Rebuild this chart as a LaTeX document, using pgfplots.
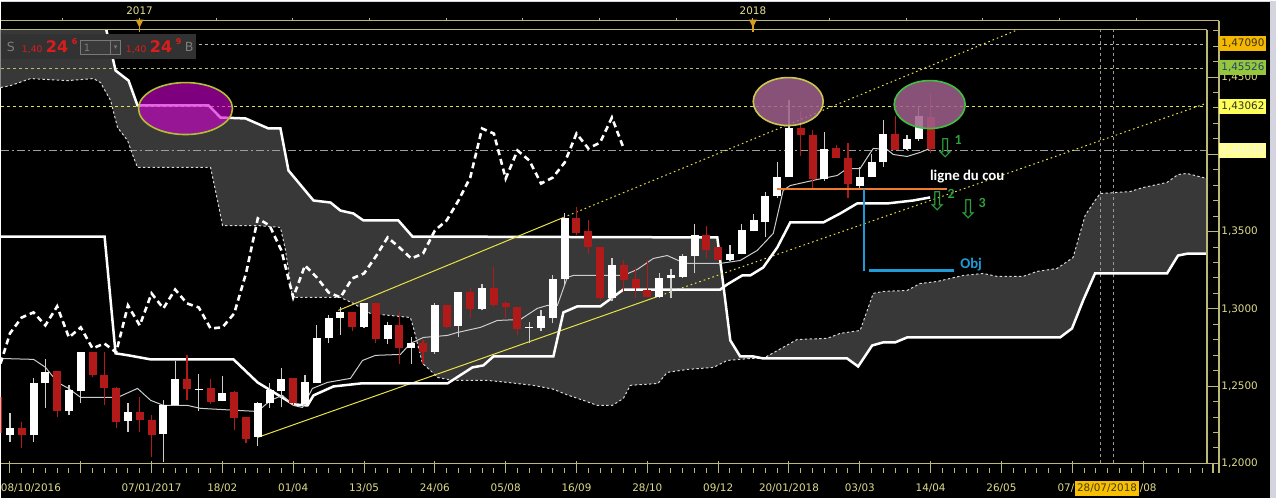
\documentclass[border=0pt]{standalone}
\usepackage{pgfplots}
\pgfplotsset{compat=1.18}
\usepackage{pgfplotstable}
\usetikzlibrary{backgrounds}
\usepackage{fontspec}
\setmainfont{DejaVu Sans}
\newfontfamily\calib{Carlito}

\definecolor{cloud}{RGB}{56,56,56}
\definecolor{cred}{RGB}{178,26,26}
\definecolor{wick}{RGB}{205,205,205}
\definecolor{khaki}{RGB}{190,184,118}
\definecolor{lbl}{RGB}{222,220,140}
\definecolor{trend}{RGB}{232,226,70}
\definecolor{hdrred}{RGB}{222,28,28}
\definecolor{hdrgray}{RGB}{125,125,125}
\definecolor{neck}{RGB}{240,124,48}
\definecolor{objblue}{RGB}{30,155,215}
\definecolor{arrowgreen}{RGB}{46,160,60}
\definecolor{goldtri}{RGB}{212,160,30}
\definecolor{yeartxt}{RGB}{230,222,150}
\definecolor{hdrbox}{RGB}{50,50,50}
\definecolor{inbox}{RGB}{58,58,58}
\definecolor{inboxline}{RGB}{120,120,120}
\definecolor{eonefill}{RGB}{213,0,213}
\definecolor{eoneline}{RGB}{176,192,48}
\definecolor{etwofill}{RGB}{160,96,140}
\definecolor{etwoline}{RGB}{200,200,80}
\definecolor{ethreeline}{RGB}{64,192,64}
\definecolor{boxa}{RGB}{245,184,0}
\definecolor{boxat}{RGB}{60,50,30}
\definecolor{boxb}{RGB}{150,198,60}
\definecolor{boxbt}{RGB}{30,70,110}
\definecolor{boxc}{RGB}{255,255,90}
\definecolor{boxct}{RGB}{50,50,30}
\definecolor{boxd}{RGB}{255,255,150}
\definecolor{boxdt}{RGB}{245,245,225}
\definecolor{datebox}{RGB}{247,192,0}
\definecolor{datet}{RGB}{70,60,20}
\definecolor{border}{RGB}{212,212,222}

\newcommand\axf{\fontsize{5.2pt}{6pt}\selectfont}

% weekly candles, w = weeks from 07/01/2017
\pgfplotstableread{
w o h l c
-12 1.2181 1.2323 1.2136 1.2226
-10 1.2181 1.2550 1.2136 1.2517
-9 1.2517 1.2673 1.2356 1.2589
-7 1.2336 1.2504 1.2310 1.2472
-6 1.2466 1.2718 1.2388 1.2718
-2 1.2272 1.2388 1.2201 1.2330
1 1.2188 1.2407 1.2006 1.2375
2 1.2375 1.2660 1.2375 1.2543
4 1.2478 1.2576 1.2336 1.2484
6 1.2401 1.2563 1.2401 1.2453
9 1.2168 1.2395 1.2110 1.2388
10 1.2388 1.2517 1.2356 1.2472
11 1.2466 1.2614 1.2362 1.2543
13 1.2382 1.2569 1.2375 1.2524
14 1.2517 1.2893 1.2517 1.2809
15 1.2809 1.2957 1.2776 1.2944
16 1.2944 1.3015 1.2834 1.2977
18 1.2880 1.3035 1.2873 1.3035
20 1.2802 1.2918 1.2770 1.2893
22 1.2744 1.2815 1.2640 1.2776
24 1.2718 1.3035 1.2711 1.3028
26 1.2886 1.3106 1.2815 1.3106
28 1.2996 1.3158 1.2990 1.3132
32 1.2879 1.2912 1.2776 1.2885
33 1.2873 1.2990 1.2854 1.2951
34 1.2944 1.3222 1.2906 1.3190
35 1.3190 1.3617 1.3151 1.3591
39 1.3067 1.3332 1.3054 1.3281
43 1.3074 1.3229 1.3067 1.3197
44 1.3197 1.3255 1.3067 1.3216
45 1.3203 1.3358 1.3197 1.3339
46 1.3339 1.3552 1.3229 1.3475
49 1.3313 1.3416 1.3307 1.3358
50 1.3358 1.3552 1.3352 1.3507
51 1.3501 1.3611 1.3501 1.3572
52 1.3565 1.3753 1.3462 1.3733
53 1.3727 1.3947 1.3720 1.3856
54 1.3850 1.4354 1.3850 1.4167
57 1.3837 1.4147 1.3830 1.4037
60 1.3798 1.3915 1.3779 1.3856
61 1.3850 1.3999 1.3850 1.3947
62 1.3947 1.4219 1.3921 1.4134
64 1.4037 1.4122 1.4031 1.4096
65 1.4096 1.4303 1.4089 1.4251
}\bull

\pgfplotstableread{
w o h l c
-13 1.2427 1.2459 1.2149 1.2194
-11 1.2226 1.2265 1.2097 1.2181
-8 1.2595 1.2595 1.2298 1.2336
-5 1.2718 1.2718 1.2556 1.2569
-4 1.2569 1.2718 1.2375 1.2485
-3 1.2485 1.2492 1.2226 1.2265
-1 1.2330 1.2427 1.2201 1.2278
0 1.2278 1.2310 1.2039 1.2181
3 1.2543 1.2699 1.2407 1.2479
5 1.2485 1.2543 1.2382 1.2395
7 1.2459 1.2466 1.2213 1.2291
8 1.2298 1.2298 1.2129 1.2155
12 1.2550 1.2550 1.2375 1.2388
17 1.2977 1.2977 1.2854 1.2880
19 1.3035 1.3035 1.2776 1.2802
21 1.2893 1.2977 1.2640 1.2744
23 1.2776 1.2796 1.2640 1.2718
25 1.3028 1.3028 1.2873 1.2880
27 1.3106 1.3132 1.2938 1.2996
29 1.3132 1.3268 1.3009 1.3028
30 1.3035 1.3048 1.2944 1.3009
31 1.3015 1.3015 1.2828 1.2867
36 1.3591 1.3656 1.3481 1.3494
37 1.3501 1.3572 1.3352 1.3397
38 1.3397 1.3397 1.3054 1.3067
40 1.3281 1.3313 1.3106 1.3184
41 1.3190 1.3274 1.3067 1.3132
42 1.3119 1.3319 1.3074 1.3074
47 1.3475 1.3539 1.3332 1.3384
48 1.3397 1.3397 1.3307 1.3313
55 1.4167 1.4283 1.3992 1.4122
56 1.4128 1.4160 1.3785 1.3837
58 1.4044 1.4057 1.3973 1.3973
59 1.3979 1.4076 1.3720 1.3805
63 1.4134 1.4251 1.4031 1.4031
66 1.4244 1.4387 1.4011 1.4037
}\bear

\pgfplotstableread{
w v
-12.79 1.3468
-3.98 1.3468
-3.05 1.2712
-1.95 1.2699
-0.08 1.2673
6.94 1.2673
8.98 1.2524
12.02 1.2382
13.21 1.2375
13.72 1.2440
15.41 1.2498
17.70 1.2517
25.06 1.2517
27.18 1.2621
28.11 1.2634
28.96 1.2692
34.04 1.2692
34.89 1.2977
36.07 1.3016
38.02 1.3016
39.97 1.3125
48.18 1.3125
48.77 1.3158
50.04 1.3216
50.72 1.3216
51.82 1.3268
53.01 1.3397
54.11 1.3559
56.90 1.3559
58.34 1.3617
59.78 1.3682
62.32 1.3682
64.52 1.3701
65.96 1.3721
}\kijun

\pgfplotstableread{
w v
-12.79 1.2679
-9.99 1.2673
-8.98 1.2621
-7.96 1.2524
-7.03 1.2485
-6.01 1.2427
-2.88 1.2427
-1.19 1.2485
-0.08 1.2408
1.02 1.2375
3.05 1.2375
4.15 1.2356
8.98 1.2336
10.08 1.2408
11.09 1.2440
12.02 1.2375
12.79 1.2362
13.63 1.2485
14.90 1.2524
16.85 1.2550
17.87 1.2666
18.97 1.2699
21.08 1.2705
21.93 1.2776
23.03 1.2815
25.06 1.2828
25.91 1.2847
27.86 1.2880
29.30 1.2925
31.24 1.2931
32.68 1.3003
33.53 1.3022
34.38 1.3022
35.22 1.3203
35.73 1.3216
39.97 1.3216
41.15 1.3255
42.51 1.3326
43.69 1.3345
44.62 1.3313
45.39 1.3294
48.18 1.3294
49.87 1.3313
51.31 1.3378
52.67 1.3488
53.51 1.3766
54.11 1.3798
56.39 1.3837
58.09 1.3863
58.93 1.3908
60.03 1.3908
60.63 1.3979
61.14 1.4038
62.32 1.4031
62.83 1.3999
64.01 1.3986
65.11 1.4012
65.96 1.4038
}\tenkan

\pgfplotstableread{
w v
-12.79 1.2647
-12 1.2841
-11 1.2944
-10 1.2977
-9 1.2893
-8 1.3016
-7 1.2815
-6 1.2880
-5 1.2744
-4 1.2776
-3 1.2718
-2 1.3022
-1 1.2893
0 1.3100
1 1.3003
2 1.3125
3 1.3035
4 1.3009
5 1.2873
6 1.2880
7 1.2970
8 1.3229
9 1.3585
10 1.3539
11 1.3378
12 1.3074
13 1.3281
14 1.3203
15 1.3106
16 1.3074
17 1.3197
18 1.3229
19 1.3339
20 1.3462
21 1.3397
22 1.3326
23 1.3358
24 1.3507
25 1.3572
26 1.3701
27 1.3850
28 1.4167
29 1.4134
30 1.3843
31 1.4025
32 1.3960
33 1.3811
34 1.3850
35 1.3947
36 1.4134
37 1.4038
38 1.4076
39 1.4238
40 1.4038
}\chikou

\pgfplotstableread{
w v
-12.79 1.4432
-11.94 1.4445
-10.25 1.4490
-7.11 1.4477
-4.91 1.4490
-4.32 1.4464
-3.47 1.4348
-2.88 1.4173
-2.03 1.4089
-1.52 1.3979
-1.19 1.3915
5.00 1.3915
5.59 1.3701
6.01 1.3539
8.98 1.3539
10.92 1.3527
11.35 1.3378
11.94 1.3074
16.00 1.3074
17.10 1.3035
18.54 1.2970
21.93 1.2944
22.18 1.2880
22.95 1.2647
23.62 1.2602
24.22 1.2556
25.57 1.2537
28.45 1.2537
30.14 1.2524
32.35 1.2505
34.04 1.2480
35.22 1.2443
36.58 1.2408
37.76 1.2375
39.03 1.2375
39.97 1.2420
40.56 1.2505
42.90 1.2517
43.69 1.2589
45.39 1.2608
47.59 1.2621
48.77 1.2666
50.72 1.2679
51.82 1.2679
54.70 1.2802
57.24 1.2809
58.34 1.2841
60.03 1.2860
61.14 1.3100
61.98 1.3113
64.01 1.3119
65.11 1.3164
66.55 1.3177
68.75 1.3216
70.45 1.3229
71.63 1.3210
73.84 1.3210
75.02 1.3242
76.71 1.3261
78.07 1.3332
79.09 1.3604
79.93 1.3701
80.36 1.3746
82.90 1.3759
84.00 1.3785
86.03 1.3818
86.96 1.3869
87.72 1.3876
89.42 1.3843
}\senkouA

\pgfplotstableread{
w v
-12.79 1.4969
-4.32 1.4969
-3.05 1.4542
-1.95 1.4477
-1.19 1.4316
4.83 1.4316
5.84 1.4238
7.96 1.4232
9.91 1.4167
10.92 1.4167
11.60 1.3895
13.72 1.3701
15.16 1.3688
16.00 1.3636
17.10 1.3617
17.95 1.3572
20.91 1.3572
22.10 1.3468
47.93 1.3462
49.03 1.2796
49.87 1.2692
50.97 1.2692
51.82 1.2679
58.93 1.2679
59.86 1.2627
61.05 1.2763
61.98 1.2783
63.00 1.2783
64.01 1.2815
76.97 1.2815
77.98 1.2873
78.92 1.3054
79.93 1.3229
86.03 1.3229
86.96 1.3345
87.81 1.3358
89.42 1.3358
}\senkouB

% cloud outline: span A forwards, then span B backwards (cut at the top of the chart)
\pgfplotstableread{
w v
-12.79 1.4432
-11.94 1.4445
-10.25 1.4490
-7.11 1.4477
-4.91 1.4490
-4.32 1.4464
-3.47 1.4348
-2.88 1.4173
-2.03 1.4089
-1.52 1.3979
-1.19 1.3915
5.00 1.3915
5.59 1.3701
6.01 1.3539
8.98 1.3539
10.92 1.3527
11.35 1.3378
11.94 1.3074
16.00 1.3074
17.10 1.3035
18.54 1.2970
21.93 1.2944
22.18 1.2880
22.95 1.2647
23.62 1.2602
24.22 1.2556
25.57 1.2537
28.45 1.2537
30.14 1.2524
32.35 1.2505
34.04 1.2480
35.22 1.2443
36.58 1.2408
37.76 1.2375
39.03 1.2375
39.97 1.2420
40.56 1.2505
42.90 1.2517
43.69 1.2589
45.39 1.2608
47.59 1.2621
48.77 1.2666
50.72 1.2679
51.82 1.2679
54.70 1.2802
57.24 1.2809
58.34 1.2841
60.03 1.2860
61.14 1.3100
61.98 1.3113
64.01 1.3119
65.11 1.3164
66.55 1.3177
68.75 1.3216
70.45 1.3229
71.63 1.3210
73.84 1.3210
75.02 1.3242
76.71 1.3261
78.07 1.3332
79.09 1.3604
79.93 1.3701
80.36 1.3746
82.90 1.3759
84.00 1.3785
86.03 1.3818
86.96 1.3869
87.72 1.3876
89.42 1.3843
89.42 1.3358
87.81 1.3358
86.96 1.3345
86.03 1.3229
79.93 1.3229
78.92 1.3054
77.98 1.2873
76.97 1.2815
64.01 1.2815
63.00 1.2783
61.98 1.2783
61.05 1.2763
59.86 1.2627
58.93 1.2679
51.82 1.2679
50.97 1.2692
49.87 1.2692
49.03 1.2796
47.93 1.3462
22.10 1.3468
20.91 1.3572
17.95 1.3572
17.10 1.3617
16.00 1.3636
15.16 1.3688
13.72 1.3701
11.60 1.3895
10.92 1.4167
9.91 1.4167
7.96 1.4232
5.84 1.4238
4.83 1.4316
-1.19 1.4316
-1.95 1.4477
-3.05 1.4542
-3.90 1.4807
-12.79 1.4807
}\cloudarea

% top-left part of the cloud, where span B runs above the chart
\pgfplotstableread{
w v
-12.79 1.4432
-11.94 1.4445
-10.25 1.4490
-7.11 1.4477
-4.91 1.4490
-4.32 1.4464
-3.47 1.4348
-2.88 1.4173
-2.03 1.4089
-1.52 1.3979
-1.19 1.3915
-1.19 1.4316
-1.95 1.4477
-3.05 1.4542
-3.90 1.4807
-12.79 1.4807
}\cloudleft

\begin{document}
\begin{tikzpicture}[x=0.5pt,y=0.5pt]
\begin{axis}[
    name=ax, at={(0,0)}, anchor=north west,
    scale only axis, width=603.5pt, height=217pt,
    xmin=-12.79, xmax=89.42,
    ymin=1.2, ymax=1.4807,
    hide axis, clip=true,
]
\coordinate (NW) at (rel axis cs:0,1);
% cloud
\addplot[fill=cloud, draw=none] table[x=w,y=v] {\cloudarea} -- cycle;
\addplot[fill=cloud, draw=none] table[x=w,y=v] {\cloudleft} -- cycle;

% price levels
\addplot[white!72!black, line width=0.5pt, dash pattern=on 1.5pt off 1.5pt] coordinates {(-12.79,1.4709) (89.42,1.4709)};
\addplot[khaki, line width=0.5pt, dash pattern=on 1.5pt off 1.5pt] coordinates {(-12.79,1.45526) (89.42,1.45526)};
\addplot[trend, line width=0.5pt, dash pattern=on 1.5pt off 1.5pt] coordinates {(-12.79,1.43062) (89.42,1.43062)};
\addplot[white!62!black, line width=0.6pt, dash pattern=on 4pt off 1.5pt on 1pt off 1.5pt] coordinates {(-12.79,1.40248) (89.42,1.40248)};
\addplot[white!60!black, line width=0.4pt, dash pattern=on 1.5pt off 1.5pt] coordinates {(80.4,1.2) (80.4,1.4807)};
\addplot[white!60!black, line width=0.4pt, dash pattern=on 1.5pt off 1.5pt] coordinates {(81.45,1.2) (81.45,1.4807)};

% ichimoku lines
\addplot[white!85!black, line width=0.5pt, dash pattern=on 1.2pt off 1.2pt] table[x=w,y=v] {\senkouA};
\addplot[white, line width=1.25pt] table[x=w,y=v] {\senkouB};

% channel
\addplot[trend, line width=0.5pt] coordinates {(8.98,1.2168) (43.10,1.3086)};
\addplot[trend, line width=0.5pt, dash pattern=on 0.8pt off 1.5pt] coordinates {(43.10,1.3086) (89.33,1.4329)};
\addplot[trend, line width=0.5pt] coordinates {(15.83,1.2990) (34.89,1.3591)};
\addplot[trend, line width=0.5pt, dash pattern=on 0.8pt off 1.5pt] coordinates {(34.89,1.3591) (73.41,1.4807)};

\addplot[white, line width=1.25pt] table[x=w,y=v] {\kijun};
\addplot[white!80!black, line width=0.5pt] table[x=w,y=v] {\tenkan};
\addplot[white, line width=1.3pt, dash pattern=on 3pt off 2pt] table[x=w,y=v] {\chikou};

% candles
\addplot[wick, line width=0.6pt, quiver={u=0, v=\thisrow{h}-\thisrow{l}}] table[x=w,y=l] {\bull};
\addplot[white, line width=4pt, quiver={u=0, v=\thisrow{c}-\thisrow{o}}] table[x=w,y=o] {\bull};
\addplot[cred, line width=0.6pt, quiver={u=0, v=\thisrow{h}-\thisrow{l}}] table[x=w,y=l] {\bear};
\addplot[cred, line width=4pt, quiver={u=0, v=\thisrow{c}-\thisrow{o}}] table[x=w,y=o] {\bear};

% neckline and objective
\addplot[neck, line width=1.2pt] coordinates {(53.01,1.3776) (67.40,1.3776)};
\addplot[objblue, line width=1.1pt] coordinates {(60.37,1.3776) (60.37,1.3242)};
\addplot[objblue, line width=1.1pt] coordinates {(60.80,1.3248) (67.99,1.3248)};
\end{axis}

% screen coordinates in pixels, origin at the top left of the image
\begin{scope}[shift={(NW)}, yshift=14.5pt, yscale=-1]
\begin{scope}[on background layer]
\fill[black] (0,0) rectangle (1276,498);
\end{scope}
% screen border
\fill[border] (0,0) rectangle (1276,1.5);
\fill[border] (1270,0) rectangle (1276,498);

% top time strip
\draw[khaki, line width=0.6pt] (0,20) -- (1219,20);
\draw[khaki, line width=0.6pt] (0,29) -- (1207,29);
\foreach \k in {-1,...,13} \draw[khaki, line width=0.5pt] ({139+76.7*\k},17) -- ({139+76.7*\k},20);
\foreach \xx/\yy in {139/2017, 752.7/2018} {
  \draw[goldtri, line width=0.8pt] (\xx,19) -- (\xx,31);
  \fill[goldtri] (\xx-4,19) -- (\xx+4,19) -- (\xx,27) -- cycle;
  \node[text=yeartxt, font=\axf] at (\xx,10) {\yy};
}

% header widget
\fill[hdrbox] (0,33) rectangle (195,58);
\node[anchor=base west, inner sep=0, text=hdrgray, font=\fontsize{6.3pt}{7pt}\selectfont] at (6,51) {S};
\node[anchor=base west, inner sep=0, text=hdrred, font=\fontsize{4.6pt}{5pt}\selectfont] at (21,52) {1,40};
\node[anchor=base west, inner sep=0, text=hdrred, font=\fontsize{8pt}{8pt}\selectfont\bfseries] at (45,52) {24};
\node[anchor=base west, inner sep=0, text=hdrred, font=\fontsize{4pt}{4pt}\selectfont\bfseries] at (71,44) {6};
\filldraw[fill=inbox, draw=inboxline, line width=0.5pt] (80,40) rectangle (120,54);
\draw[inboxline, line width=0.5pt] (110,40) -- (110,54);
\node[anchor=base west, inner sep=0, text=hdrgray, font=\fontsize{5pt}{5pt}\selectfont] at (83,51) {1};
\node[inner sep=0, text=hdrgray, font=\fontsize{3.5pt}{4pt}\selectfont] at (115,47) {▾};
\node[anchor=base west, inner sep=0, text=hdrred, font=\fontsize{4.6pt}{5pt}\selectfont] at (125,52) {1,40};
\node[anchor=base west, inner sep=0, text=hdrred, font=\fontsize{8pt}{8pt}\selectfont\bfseries] at (149,52) {24};
\node[anchor=base west, inner sep=0, text=hdrred, font=\fontsize{4pt}{4pt}\selectfont\bfseries] at (175,44) {9};
\node[anchor=base west, inner sep=0, text=hdrgray, font=\fontsize{6.3pt}{7pt}\selectfont] at (184,51) {B};

% highlighted tops
\fill[eonefill, fill opacity=0.6] (185,108) ellipse [x radius=47, y radius=26];
\draw[eoneline, line width=0.8pt] (185,108) ellipse [x radius=47, y radius=26];
\fill[etwofill, fill opacity=0.85] (788,101) ellipse [x radius=35, y radius=24];
\draw[etwoline, line width=0.8pt] (788,101) ellipse [x radius=35, y radius=24];
\fill[etwofill, fill opacity=0.85] (929.5,104) ellipse [x radius=35.5, y radius=24];
\draw[ethreeline, line width=0.8pt] (929.5,104) ellipse [x radius=35.5, y radius=24];

% annotations
\node[text=white, font=\calib\bfseries\fontsize{7.4pt}{8pt}\selectfont] at (967,176) {ligne du cou};
\node[text=objblue, font=\calib\bfseries\fontsize{7.4pt}{8pt}\selectfont] at (971,264) {Obj};
\foreach \ax/\ay/\lx/\ly/\t in {945/148/958/139/1, 937/201/951/193/2, 968/209/982/202/3} {
  \node[inner sep=0, text=arrowgreen, font=\fontsize{13pt}{13pt}\selectfont] at (\ax,\ay) {⇩};
  \node[text=arrowgreen, font=\calib\bfseries\fontsize{7pt}{8pt}\selectfont] at (\lx,\ly) {\t};
}

% frame and price axis
\draw[khaki, line width=0.6pt] (1207,29) -- (1207,463);
\draw[khaki, line width=0.6pt] (1219,20) -- (1219,473);
\draw[khaki, line width=0.6pt] (1213,463) -- (1213,473);
\foreach \i in {0,...,28} \draw[khaki, line width=0.5pt] (1213,{463-15.46*\i}) -- (1219,{463-15.46*\i});
\foreach \i in {0,5,...,25} \draw[khaki, line width=0.5pt] (1207,{463-15.46*\i}) -- (1219,{463-15.46*\i});
\foreach \i/\t in {0/{1,2000},5/{1,2500},10/{1,3000},15/{1,3500},25/{1,4500}}
  \node[anchor=west, inner sep=0, text=lbl, font=\axf] at (1221,{463-15.46*\i}) {\t};
\node[anchor=west, inner xsep=1pt, inner ysep=0pt, minimum height=7.5pt, fill=boxa, text=boxat, font=\axf] at (1219,42.7) {1,47090};
\node[anchor=west, inner xsep=1pt, inner ysep=0pt, minimum height=7.5pt, fill=boxb, text=boxbt, font=\axf] at (1219,66.5) {1,45526};
\node[anchor=west, inner xsep=1pt, inner ysep=0pt, minimum height=7.5pt, fill=boxc, text=boxct, font=\axf] at (1219,105.5) {1,43062};
\node[anchor=west, inner xsep=1pt, inner ysep=0pt, minimum height=7.5pt, fill=boxd, text=boxdt, font=\axf] at (1219,149.5) {1,40248};

% time axis
\draw[khaki, line width=0.6pt] (0,463) -- (1219,463);
\foreach \w in {-12,...,89} \draw[khaki, line width=0.5pt] ({151+11.81*\w},468) -- ({151+11.81*\w},473);
\foreach \w in {-12,-6,...,84} \draw[khaki, line width=0.5pt] ({151+11.81*\w},461) -- ({151+11.81*\w},473);
\node[anchor=west, inner sep=0, text=lbl, font=\axf] at (0,488) {08/10/2016};
\foreach \w/\t in {0/{07/01/2017},6/{18/02},12/{01/04},18/{13/05},24/{24/06},30/{05/08},36/{16/09},42/{28/10},48/{09/12},54/{20/01/2018},60/{03/03},66/{14/04},72/{26/05}}
  \node[inner sep=0, text=lbl, font=\axf] at ({151+11.81*\w},488) {\t};
\node[inner xsep=1pt, inner ysep=1.5pt, fill=datebox, text=datet, font=\axf] (hl) at (1107,488) {28/07/2018};
\node[anchor=east, inner sep=0, text=lbl, font=\axf] at (hl.west) {07/};
\node[anchor=west, inner sep=0, text=lbl, font=\axf] at (hl.east) {/08};
\end{scope}
\end{tikzpicture}
\end{document}
